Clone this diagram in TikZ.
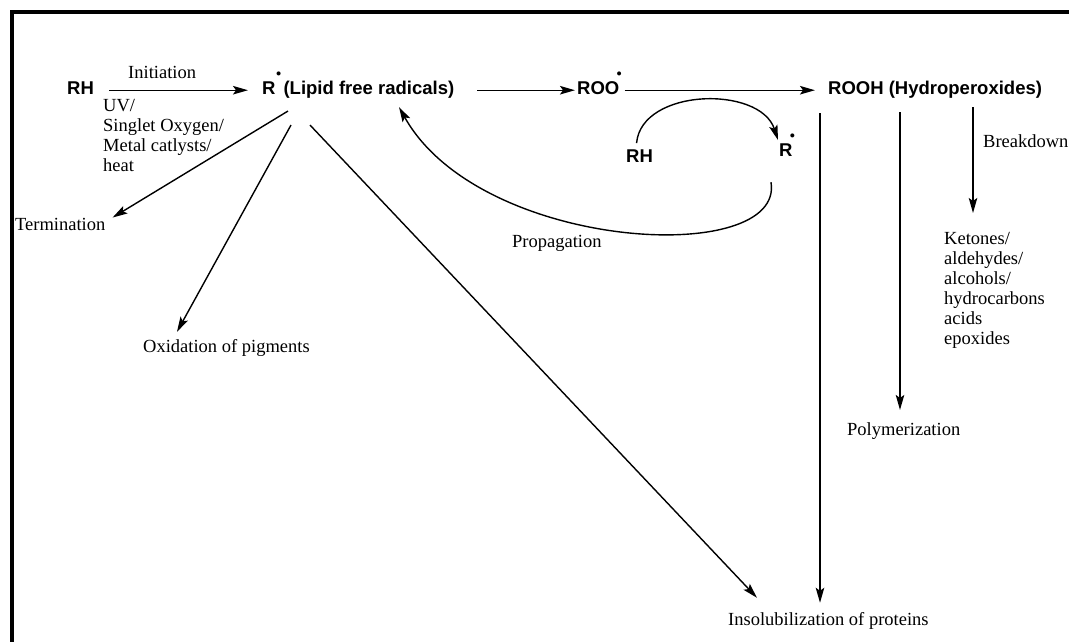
\documentclass[tikz,border=0pt]{standalone}
\usepackage{fontspec}
\usepackage{graphicx}
\setmainfont{Liberation Serif}
\newfontfamily\chemfont{Liberation Sans}
\usetikzlibrary{arrows.meta}

% raised radical dot, #1 = kern after the letter
\newcommand{\radot}[1]{\rlap{\smash{\kern#1\raisebox{1.0em}{\scalebox{0.6}{$\bullet$}}}}}

\tikzset{
  chem/.style={font=\fontsize{18.5}{20}\selectfont\chemfont\bfseries, inner sep=0pt, anchor=base west},
  note/.style={font=\fontsize{18.5}{20}\selectfont, inner sep=0pt, anchor=base west},
  arr/.style={-{Stealth[length=15pt,width=8.5pt,inset=3pt]}, line width=1.4pt},
}

\begin{document}
\begin{tikzpicture}[x=1pt,y=-1pt]
\useasboundingbox (0,0) rectangle (1069,642);

% FRAME
\draw[line width=4pt] (12,642) -- (12,12.5) -- (1069,12.5);

% SPECIES
\node[chem] (rh)    at (67,95)   {RH};
\node[chem] (lipid) at (262,95)  {R\radot{0.5pt}\kern8pt(Lipid free radicals)};
\node[chem] (roo)   at (577,95)  {ROO\radot{-2.8pt}};
\node[chem] (rooh)  at (828,95)  {ROOH (Hydroperoxides)};
\node[chem] (rhtwo) at (626,162) {RH};
\node[chem] (rtwo)  at (779,157) {R\radot{-2.8pt}};

% NOTES
\node[note] (init) at (128,78) {Initiation};
\node[note, anchor=north west, align=left] (uv) at (103,99)
  {UV/\\Singlet Oxygen/\\Metal catlysts/\\heat};
\node[note] (term)  at (15,230)  {Termination};
\node[note] (oxid)  at (143,352) {Oxidation of pigments};
\node[note] (insol) at (728,625) {Insolubilization of proteins};
\node[note] (poly)  at (847,435) {Polymerization};
\node[note] (brk)   at (983,147) {Breakdown};
\node[note, anchor=north west, align=left] (prod) at (944,232)
  {Ketones/\\aldehydes/\\alcohols/\\hydrocarbons\\acids\\epoxides};
\node[note] (prop)  at (512,247) {Propagation};

% ARROWS
\draw[arr, shorten <=15pt, shorten >=14pt] (rh.east |- lipid.west) -- (lipid.west);
\draw[arr, shorten <=23pt, shorten >=2pt] (lipid.east) -- (lipid.east -| roo.west);
\draw[arr, shorten <=5pt, shorten >=13pt] (roo.east |- rooh.west) -- (rooh.west);

\draw[arr] ([shift={(26,12)}]lipid.south west) -- ([shift={(7,0)}]term.north east);
\draw[arr] ([shift={(29,26)}]lipid.south west) -- ([shift={(34,-7)}]oxid.north west);
\draw[arr] ([shift={(48,26)}]lipid.south west) -- ([shift={(29,-14)}]insol.north west);

\coordinate (vinsol) at ([shift={(-8,14)}]rooh.south west);
\coordinate (vpoly)  at ([shift={(72,13)}]rooh.south west);
\coordinate (vbrk)   at ([shift={(145,8)}]rooh.south west);
\draw[arr, shorten >=9pt]  (vinsol) -- (vinsol |- insol.north);
\draw[arr, shorten >=12pt] (vpoly) -- (vpoly |- poly.north);
\draw[arr, shorten >=19pt] (vbrk) -- (vbrk |- prod.north);

% propagation loop
\draw[arr] ([shift={(-3,-6)}]rhtwo.north) .. controls +(5,-55) and +(-18,-55) .. ([shift={(-1,-4)}]rtwo.north west);
\draw[arr] ([shift={(-8,25)}]rtwo.south west) .. controls +(14,85) and +(81,145) .. ([shift={(137,8)}]lipid.south west);

\end{tikzpicture}
\end{document}
